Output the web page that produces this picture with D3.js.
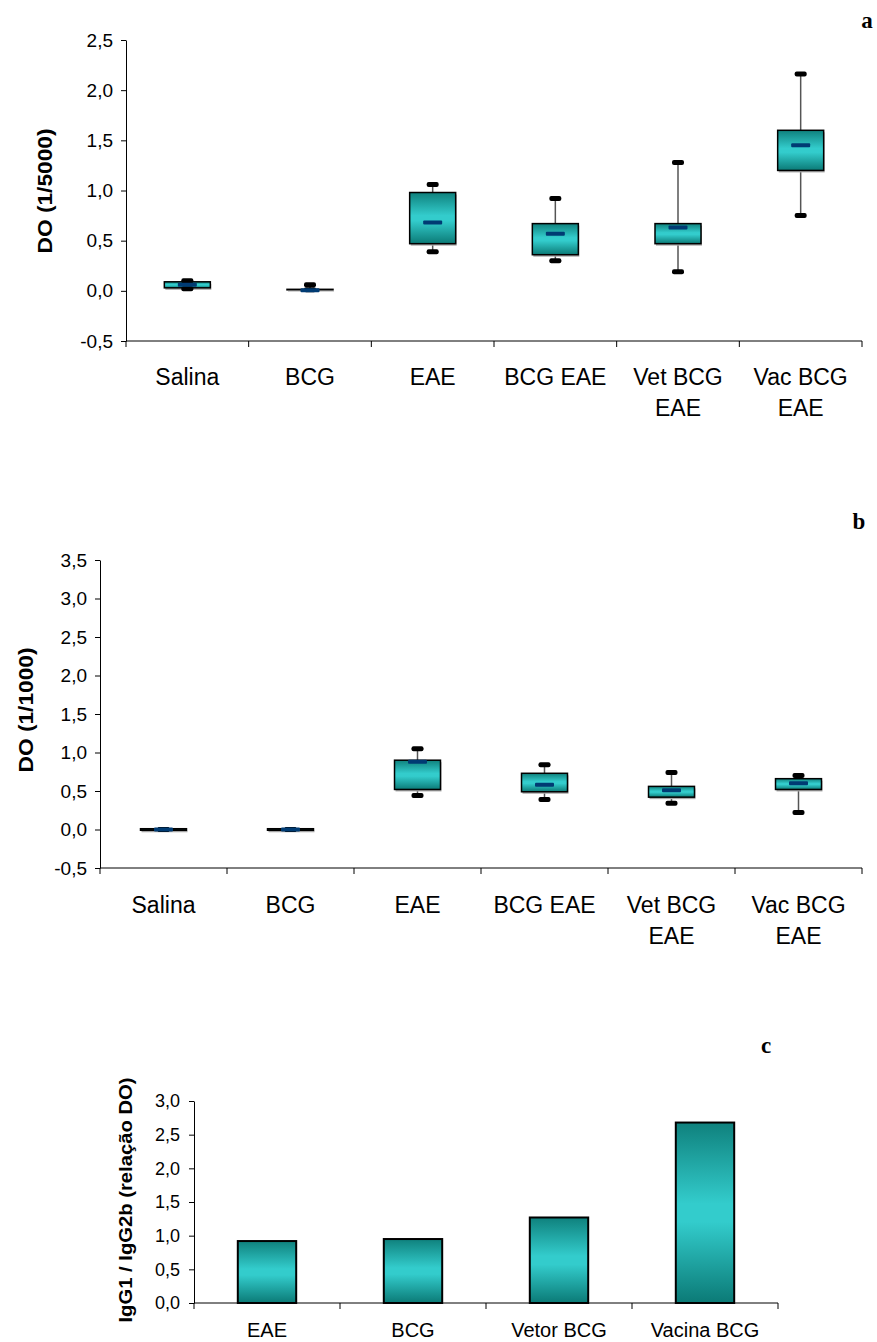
<!DOCTYPE html>
<html>
<head>
<meta charset="utf-8">
<script src="https://cdn.jsdelivr.net/npm/d3@7"></script>
<style>
  body { margin: 0; background: #fff; }
  text { font-family: "Liberation Sans", Arial, sans-serif; }
  text.letter { font-family: "Liberation Serif", "Times New Roman", serif; }
</style>
</head>
<body>
<div id="chart"></div>
<script>
// Data
const groupsAB = [["Salina"], ["BCG"], ["EAE"], ["BCG EAE"], ["Vet BCG", "EAE"], ["Vac BCG", "EAE"]];
const keysAB = groupsAB.map(d => d.join(" "));

// panel a: DO (1/5000) — lo, q1, median, q3, hi
const boxesA = [
    { lo: 0.02, q1: 0.03, med: 0.06, q3: 0.09, hi: 0.10 },
    { lo: 0.01, q1: 0.01, med: 0.005, q3: 0.015, hi: 0.06 },
    { lo: 0.39, q1: 0.47, med: 0.68, q3: 0.98, hi: 1.06 },
    { lo: 0.30, q1: 0.36, med: 0.57, q3: 0.67, hi: 0.92 },
    { lo: 0.19, q1: 0.47, med: 0.63, q3: 0.67, hi: 1.28 },
    { lo: 0.75, q1: 1.20, med: 1.45, q3: 1.60, hi: 2.16 }
];
const ticksA = [-0.5, 0, 0.5, 1, 1.5, 2, 2.5];

// panel b: DO (1/1000)
const boxesB = [
    { lo: 0, q1: -0.01, med: 0, q3: 0.01, hi: 0 },
    { lo: 0, q1: -0.01, med: 0, q3: 0.01, hi: 0 },
    { lo: 0.44, q1: 0.52, med: 0.88, q3: 0.90, hi: 1.05 },
    { lo: 0.39, q1: 0.49, med: 0.58, q3: 0.73, hi: 0.84 },
    { lo: 0.34, q1: 0.42, med: 0.51, q3: 0.56, hi: 0.74 },
    { lo: 0.22, q1: 0.52, med: 0.60, q3: 0.66, hi: 0.70 }
];
const ticksB = [-0.5, 0, 0.5, 1, 1.5, 2, 2.5, 3, 3.5];

// panel c: IgG1 / IgG2b ratio
const groupsC = ["EAE", "BCG", "Vetor BCG", "Vacina BCG"];
const ratioC = [0.92, 0.95, 1.27, 2.68];
const ticksC = [0, 0.5, 1, 1.5, 2, 2.5, 3];

const width = 877, height = 1342;
const fmt = d3.formatLocale({ decimal: ",", thousands: ".", grouping: [3], currency: ["", ""], minus: "-" }).format(".1f");

const svg = d3.select("#chart").append("svg")
    .attr("width", width)
    .attr("height", height);

svg.append("rect").attr("width", width).attr("height", height).attr("fill", "#fff");

const grad = svg.append("defs").append("linearGradient")
    .attr("id", "teal")
    .attr("x1", 0).attr("y1", 0).attr("x2", 0).attr("y2", 1);
grad.append("stop").attr("offset", "0").attr("stop-color", "#0f817d");
grad.append("stop").attr("offset", "0.45").attr("stop-color", "#33cccc");
grad.append("stop").attr("offset", "0.55").attr("stop-color", "#33cccc");
grad.append("stop").attr("offset", "1").attr("stop-color", "#0b7a76");

function yAxis(g, y, ticks, x0, fontSize, pad) {
    g.attr("transform", `translate(${x0},0)`)
        .call(d3.axisLeft(y).tickValues(ticks).tickFormat(fmt).tickSize(5).tickSizeOuter(0).tickPadding(pad))
        .call(a => a.selectAll("text").attr("font-size", fontSize).attr("fill", "#000"))
        .call(a => a.selectAll("line, path").attr("stroke", "#000"));
}

function xAxis(g, x, y0, labels, fontSize, lineGap, labelDy) {
    g.attr("transform", `translate(0,${y0})`);
    const [r0, r1] = x.range();
    g.append("line").attr("x1", r0).attr("x2", r1).attr("stroke", "#000");
    g.selectAll(".bt")
        .data(d3.range(x.domain().length + 1))
        .join("line")
        .attr("x1", i => r0 + i * x.step())
        .attr("x2", i => r0 + i * x.step())
        .attr("y2", 6)
        .attr("stroke", "#000");
    const t = g.selectAll(".lab")
        .data(x.domain())
        .join("text")
        .attr("text-anchor", "middle")
        .attr("font-size", fontSize)
        .attr("transform", d => `translate(${x(d) + x.bandwidth() / 2},${labelDy})`);
    t.selectAll("tspan")
        .data((d, i) => labels[i])
        .join("tspan")
        .attr("x", 0)
        .attr("y", (d, j) => j * lineGap)
        .text(d => d);
}

function yTitle(txt, cx, cy, len, size) {
    svg.append("text")
        .attr("transform", `translate(${cx},${cy}) rotate(-90)`)
        .attr("text-anchor", "middle")
        .attr("dy", "0.35em")
        .attr("font-weight", "bold")
        .attr("font-size", size)
        .attr("textLength", len)
        .attr("lengthAdjust", "spacingAndGlyphs")
        .text(txt);
}

function panelLetter(txt, x, y) {
    svg.append("text")
        .attr("class", "letter")
        .attr("x", x).attr("y", y)
        .attr("text-anchor", "middle")
        .attr("font-weight", "bold")
        .attr("font-size", 23)
        .text(txt);
}

function drawBoxes(g, data, x, y, frac) {
    const bw = x.bandwidth() * frac;
    const box = g.selectAll(".box")
        .data(data)
        .join("g")
        .attr("transform", (d, i) => `translate(${x(keysAB[i]) + x.bandwidth() / 2},0)`);

    box.append("line")
        .attr("y1", d => y(d.hi))
        .attr("y2", d => y(d.lo))
        .attr("stroke", "#555")
        .attr("stroke-width", 1.5);

    // faint shadow under the box
    box.append("rect")
        .attr("x", -bw / 2 + 1)
        .attr("y", d => y(Math.max(d.q1, d.q3)) + 2)
        .attr("width", bw)
        .attr("height", d => Math.abs(y(d.q1) - y(d.q3)))
        .attr("fill", "#aaa");

    box.append("rect")
        .attr("x", -bw / 2)
        .attr("y", d => y(Math.max(d.q1, d.q3)))
        .attr("width", bw)
        .attr("height", d => Math.abs(y(d.q1) - y(d.q3)))
        .attr("fill", "url(#teal)")
        .attr("stroke", "#000")
        .attr("stroke-width", 1.5);

    ["hi", "lo"].forEach(k => {
        box.append("rect")
            .attr("x", -6)
            .attr("y", d => y(d[k]) - 2.5)
            .attr("width", 12)
            .attr("height", 5)
            .attr("rx", 2)
            .attr("fill", "#000");
    });

    box.append("rect")
        .attr("x", -9.5)
        .attr("y", d => y(d.med) - 2)
        .attr("width", 19)
        .attr("height", 4)
        .attr("rx", 1)
        .attr("fill", "#003b73");
}

// ---- panel a
const xA = d3.scaleBand().domain(keysAB).range([126, 862]);
const yA = d3.scaleLinear().domain([-0.5, 2.5]).range([341, 40]);
yAxis(svg.append("g"), yA, ticksA, 126, 19, 8);
xAxis(svg.append("g"), xA, 341, groupsAB, 23, 31, 44);
drawBoxes(svg.append("g"), boxesA, xA, yA, 0.375);
yTitle("DO (1/5000)", 45, 191, 125, 20);
panelLetter("a", 867, 28);

// ---- panel b
const xB = d3.scaleBand().domain(keysAB).range([100, 862]);
const yB = d3.scaleLinear().domain([-0.5, 3.5]).range([868, 560]);
yAxis(svg.append("g"), yB, ticksB, 100, 19, 8);
xAxis(svg.append("g"), xB, 868, groupsAB, 23, 31, 45);
drawBoxes(svg.append("g"), boxesB, xB, yB, 0.362);
yTitle("DO (1/1000)", 26, 710, 125, 20);
panelLetter("b", 859, 529);

// ---- panel c
const xC = d3.scaleBand().domain(groupsC).range([194, 778]);
const yC = d3.scaleLinear().domain([0, 3]).range([1303, 1101]);
yAxis(svg.append("g"), yC, ticksC, 194, 18, 9);
xAxis(svg.append("g"), xC, 1303, groupsC.map(d => [d]), 20, 0, 34);
const bwC = xC.bandwidth() * 0.4;
svg.append("g").selectAll("rect")
    .data(ratioC)
    .join("rect")
    .attr("x", (d, i) => xC(groupsC[i]) + (xC.bandwidth() - bwC) / 2)
    .attr("y", d => yC(d))
    .attr("width", bwC)
    .attr("height", d => yC(0) - yC(d))
    .attr("fill", "url(#teal)")
    .attr("stroke", "#000")
    .attr("stroke-width", 2);
yTitle("IgG1 / IgG2b (relação DO)", 125, 1200, 245, 19);
panelLetter("c", 766, 1053);
</script>
</body>
</html>
